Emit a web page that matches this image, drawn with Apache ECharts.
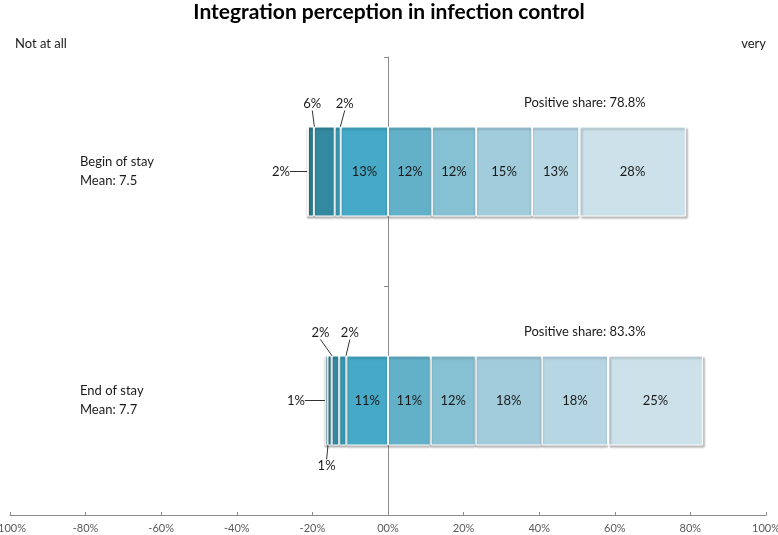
<!DOCTYPE html>
<html>
<head>
<meta charset="utf-8">
<script src="https://cdn.jsdelivr.net/npm/echarts@6/dist/echarts.min.js"></script>
<style>
  html, body { margin: 0; padding: 0; background: #fff; }
  #chart { width: 778px; height: 535px; }
</style>
</head>
<body>
<div id="chart"></div>
<script>
// ---- data ----
const categories = ['Begin of stay', 'End of stay'];
const means = [7.5, 7.7];
const positiveShare = [78.8, 83.3];
const xTicks = [-100, -80, -60, -40, -20, 0, 20, 40, 60, 80, 100];
// negative side, from outermost (lowest rating) to the one next to zero
const neg1 = [0, 0.7];
const neg2 = [1.6, 1.1];
const neg3 = [5.5, 2.0];
const neg4 = [1.6, 1.9];
const neg5 = [12.5, 11.0];
// positive side, from zero outward
const pos1 = [11.6, 11.3];
const pos2 = [11.7, 11.9];
const pos3 = [14.8, 17.5];
const pos4 = [12.5, 17.5];
const pos5 = [28.2, 25.1];

// ---- styles ----
const FONT = 'Lato, "Open Sans", sans-serif';
const negSeries = [
  { name: 'n5', values: neg5, color: '#45a9c7' },
  { name: 'n4', values: neg4, color: '#3a97b1' },
  { name: 'n3', values: neg3, color: '#3389a0' },
  { name: 'n2', values: neg2, color: '#2b7b8e' },
  { name: 'n1', values: neg1, color: '#246d7e' }
];
const posSeries = [
  { name: 'p1', values: pos1, color: '#63b1c9' },
  { name: 'p2', values: pos2, color: '#86c0d3' },
  { name: 'p3', values: pos3, color: '#a2cbdb' },
  { name: 'p4', values: pos4, color: '#b7d6e3' },
  { name: 'p5', values: pos5, color: '#cce1e9' }
];
// label placement for the thin segments (series name -> per category)
const outsideLabels = {
  n1: [null, { position: 'left', distance: 20 }],
  n2: [{ position: 'left', distance: 18 }, { position: 'bottom', distance: 14, dx: -3 }],
  n3: [{ position: 'top', distance: 16, dx: -12 }, { position: 'top', distance: 16, dx: -15 }],
  n4: [{ position: 'top', distance: 16, dx: 7 }, { position: 'top', distance: 16, dx: 7 }]
};

function fmt(p) {
  const v = Math.round(Math.abs(p.value));
  return Math.abs(p.value) < 0.05 ? '' : v + '%';
}

function makeSeries(def, sign, isLast) {
  const placements = outsideLabels[def.name] || [];
  return {
    name: def.name,
    type: 'bar',
    stack: 'total',
    yAxisIndex: 0,
    barWidth: 90,
    data: def.values.map((v, i) => {
      const item = { value: sign * v };
      const pl = placements[i];
      if (pl) {
        item.label = { position: pl.position, distance: pl.distance };
        item.labelLine = { show: true };
      }
      return item;
    }),
    itemStyle: {
      color: def.color,
      borderColor: '#ffffff',
      borderWidth: 1,
      shadowColor: 'rgba(0,0,0,0.28)',
      shadowBlur: 2,
      shadowOffsetY: 2,
      shadowOffsetX: isLast ? 2 : 0
    },
    label: {
      show: true,
      position: 'inside',
      formatter: fmt,
      fontFamily: FONT,
      fontSize: 13,
      color: '#1a1a1a'
    },
    labelLine: { show: false, lineStyle: { color: '#333', width: 1 } },
    labelLayout: function (params) {
      const pl = placements[params.dataIndex];
      if (pl && pl.dx) return { dx: pl.dx };
      return {};
    },
    emphasis: { disabled: true },
    animation: false
  };
}

const series = [];
negSeries.forEach((d) => series.push(makeSeries(d, -1, false)));
posSeries.forEach((d, i) => series.push(makeSeries(d, 1, i === posSeries.length - 1)));

const chart = echarts.init(document.getElementById('chart'), null, { renderer: 'canvas' });
chart.setOption({
  animation: false,
  title: {
    text: 'Integration perception in infection control',
    left: 'center',
    top: -3,
    textStyle: { fontFamily: FONT, fontSize: 21, fontWeight: 'bold', color: '#000' }
  },
  grid: { left: 10, right: 12, top: 57, bottom: 20, containLabel: false, outerBoundsMode: 'none' },
  xAxis: {
    type: 'value',
    min: xTicks[0],
    max: xTicks[xTicks.length - 1],
    interval: 20,
    axisLine: { show: true, onZero: false, lineStyle: { color: '#8c8c8c' } },
    axisTick: { show: true, inside: true, length: 3, lineStyle: { color: '#8c8c8c' } },
    splitLine: { show: false },
    axisLabel: {
      margin: 8,
      fontFamily: FONT,
      fontSize: 11,
      color: '#595959',
      formatter: (v) => (v === 0 ? '00' : v) + '%'
    }
  },
  yAxis: [
    {
      type: 'category',
      data: categories,
      inverse: true,
      axisLine: { show: true, onZero: true, lineStyle: { color: '#8c8c8c' } },
      axisTick: { show: true, length: 4, lineStyle: { color: '#8c8c8c' } },
      axisLabel: { show: false },
      splitLine: { show: false }
    },
    {
      type: 'category',
      data: categories.map((c, i) => c + '\nMean: ' + means[i]),
      inverse: true,
      position: 'left',
      axisLine: { show: false, onZero: false },
      axisTick: { show: false },
      axisLabel: {
        show: true,
        align: 'left',
        margin: -70,
        fontFamily: FONT,
        fontSize: 13,
        lineHeight: 19,
        padding: [7, 0, 0, 0],
        color: '#1a1a1a'
      }
    }
  ],
  graphic: [
    { type: 'text', left: 15, top: 37, style: { text: 'Not at all', font: '13px ' + FONT, fill: '#1a1a1a' } },
    { type: 'text', right: 12, top: 37, style: { text: 'very', font: '13px ' + FONT, fill: '#1a1a1a' } },
    { type: 'text', left: 524, top: 96, style: { text: 'Positive share: ' + positiveShare[0] + '%', font: '13px ' + FONT, fill: '#1a1a1a' } },
    { type: 'text', left: 524, top: 325, style: { text: 'Positive share: ' + positiveShare[1] + '%', font: '13px ' + FONT, fill: '#1a1a1a' } }
  ],
  series: series
});
</script>
</body>
</html>
